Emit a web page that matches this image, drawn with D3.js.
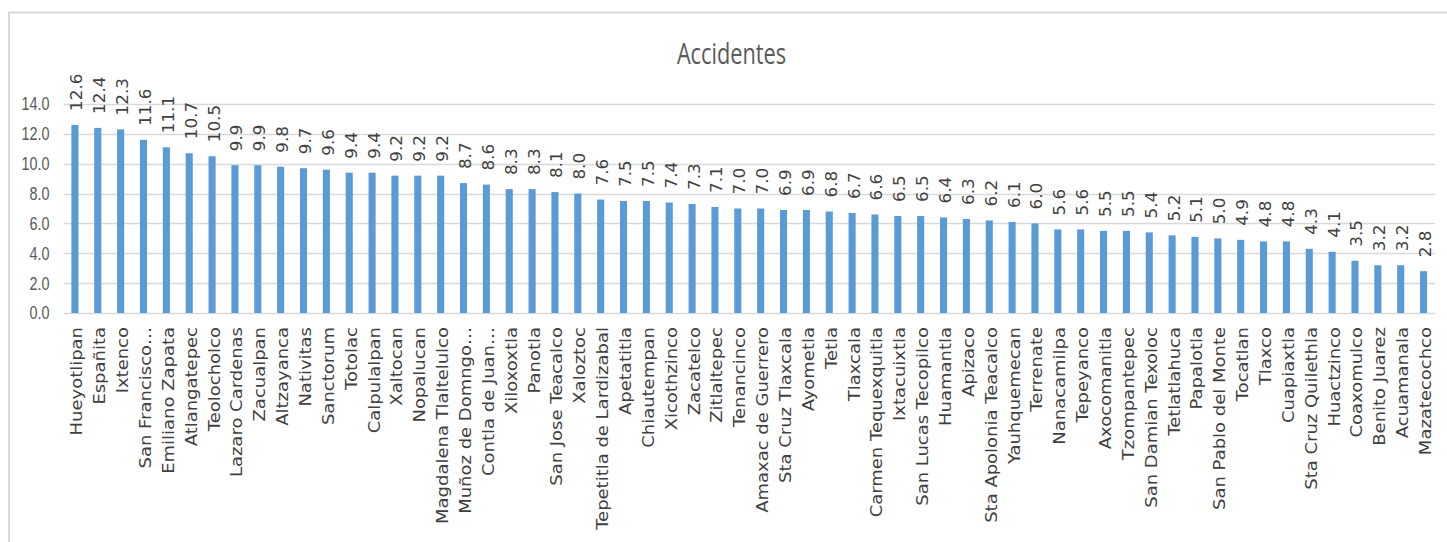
<!DOCTYPE html>
<html>
<head>
<meta charset="utf-8">
<script src="https://cdn.jsdelivr.net/npm/d3@7"></script>
<style>
  html, body { margin: 0; padding: 0; background: #fff; }
  svg { display: block; }
</style>
</head>
<body>
<svg id="chart" width="1447" height="542"></svg>
<script>
const title = "Accidentes";
const categories = [
  "Hueyotlipan", "Españita", "Ixtenco", "San Francisco…", "Emiliano Zapata",
  "Atlangatepec", "Teolocholco", "Lazaro Cardenas", "Zacualpan", "Altzayanca",
  "Nativitas", "Sanctorum", "Totolac", "Calpulalpan", "Xaltocan",
  "Nopalucan", "Magdalena Tlaltelulco", "Muñoz de Domngo…", "Contla de Juan…", "Xiloxoxtla",
  "Panotla", "San Jose Teacalco", "Xaloztoc", "Tepetitla de Lardizabal", "Apetatitla",
  "Chiautempan", "Xicothzinco", "Zacatelco", "Zitlaltepec", "Tenancinco",
  "Amaxac de Guerrero", "Sta Cruz Tlaxcala", "Ayometla", "Tetla", "Tlaxcala",
  "Carmen Tequexquitla", "Ixtacuixtla", "San Lucas Tecopilco", "Huamantla", "Apizaco",
  "Sta Apolonia Teacalco", "Yauhquemecan", "Terrenate", "Nanacamilpa", "Tepeyanco",
  "Axocomanitla", "Tzompantepec", "San Damian Texoloc", "Tetlatlahuca", "Papalotla",
  "San Pablo del Monte", "Tocatlan", "Tlaxco", "Cuapiaxtla", "Sta Cruz Quilethla",
  "Huactzinco", "Coaxomulco", "Benito Juarez", "Acuamanala", "Mazatecochco"
];
const values = [
  12.6, 12.4, 12.3, 11.6, 11.1, 10.7, 10.5, 9.9, 9.9, 9.8,
  9.7, 9.6, 9.4, 9.4, 9.2, 9.2, 9.2, 8.7, 8.6, 8.3,
  8.3, 8.1, 8.0, 7.6, 7.5, 7.5, 7.4, 7.3, 7.1, 7.0,
  7.0, 6.9, 6.9, 6.8, 6.7, 6.6, 6.5, 6.5, 6.4, 6.3,
  6.2, 6.1, 6.0, 5.6, 5.6, 5.5, 5.5, 5.4, 5.2, 5.1,
  5.0, 4.9, 4.8, 4.8, 4.3, 4.1, 3.5, 3.2, 3.2, 2.8
];
const yTicks = [0, 2, 4, 6, 8, 10, 12, 14];

const svg = d3.select("#chart");
const plot = { left: 63.5, right: 1435, top: 104, bottom: 313 };

// chart frame
svg.append("rect")
  .attr("x", 9).attr("y", 12.5)
  .attr("width", 1500).attr("height", 600)
  .attr("fill", "none").attr("stroke", "#d9d9d9").attr("stroke-width", 2);

const x = d3.scaleBand()
  .domain(categories)
  .range([plot.left, plot.right])
  .paddingInner(0.69)
  .paddingOuter(0.345);

const y = d3.scaleLinear().domain([0, 14]).range([plot.bottom, plot.top]);

// gridlines
svg.append("g")
  .selectAll("line")
  .data(yTicks)
  .join("line")
  .attr("x1", plot.left).attr("x2", plot.right)
  .attr("y1", d => Math.round(y(d)) + 0.5).attr("y2", d => Math.round(y(d)) + 0.5)
  .attr("stroke", "#d9d9d9").attr("stroke-width", 1.3);

// y tick labels
svg.append("g")
  .selectAll("text")
  .data(yTicks)
  .join("text")
  .attr("transform", d => `translate(49.5,${y(d)}) scale(0.8,1)`)
  .attr("text-anchor", "end")
  .attr("dy", "0.36em")
  .attr("font-family", "Liberation Sans, Arial, sans-serif")
  .attr("font-size", 18)
  .attr("fill", "#595959")
  .text(d => d3.format(".1f")(d));

// bars
svg.append("g")
  .selectAll("rect")
  .data(values)
  .join("rect")
  .attr("x", (d, i) => x(categories[i]))
  .attr("width", x.bandwidth())
  .attr("y", d => y(d))
  .attr("height", d => y(0) - y(d))
  .attr("fill", "#5b9bd5");

// value labels
svg.append("g")
  .selectAll("text")
  .data(values)
  .join("text")
  .attr("transform", (d, i) => `translate(${x(categories[i]) + x.bandwidth() / 2 + 7.5},${y(d) - 14}) rotate(-90) scale(1.05,1)`)
  .attr("text-anchor", "start")
  .attr("font-family", "DejaVu Sans, sans-serif")
  .attr("font-size", 16)
  .attr("fill", "#404040")
  .text(d => d3.format(".1f")(d));

// category labels
svg.append("g")
  .selectAll("text")
  .data(categories)
  .join("text")
  .attr("transform", d => `translate(${x(d) + x.bandwidth() / 2 + 7.5},${plot.bottom + 14}) rotate(-90) scale(1.2,1)`)
  .attr("text-anchor", "end")
  .attr("font-family", "DejaVu Sans, sans-serif")
  .attr("font-size", 15)
  .attr("fill", "#404040")
  .text(d => d);

// title
svg.append("text")
  .attr("transform", "translate(731.5,64.3) scale(0.75,1)")
  .attr("text-anchor", "middle")
  .attr("font-family", "Open Sans, Liberation Sans, sans-serif")
  .attr("font-weight", 400)
  .attr("font-size", 29)
  .attr("fill", "#595959")
  .text(title);
</script>
</body>
</html>
